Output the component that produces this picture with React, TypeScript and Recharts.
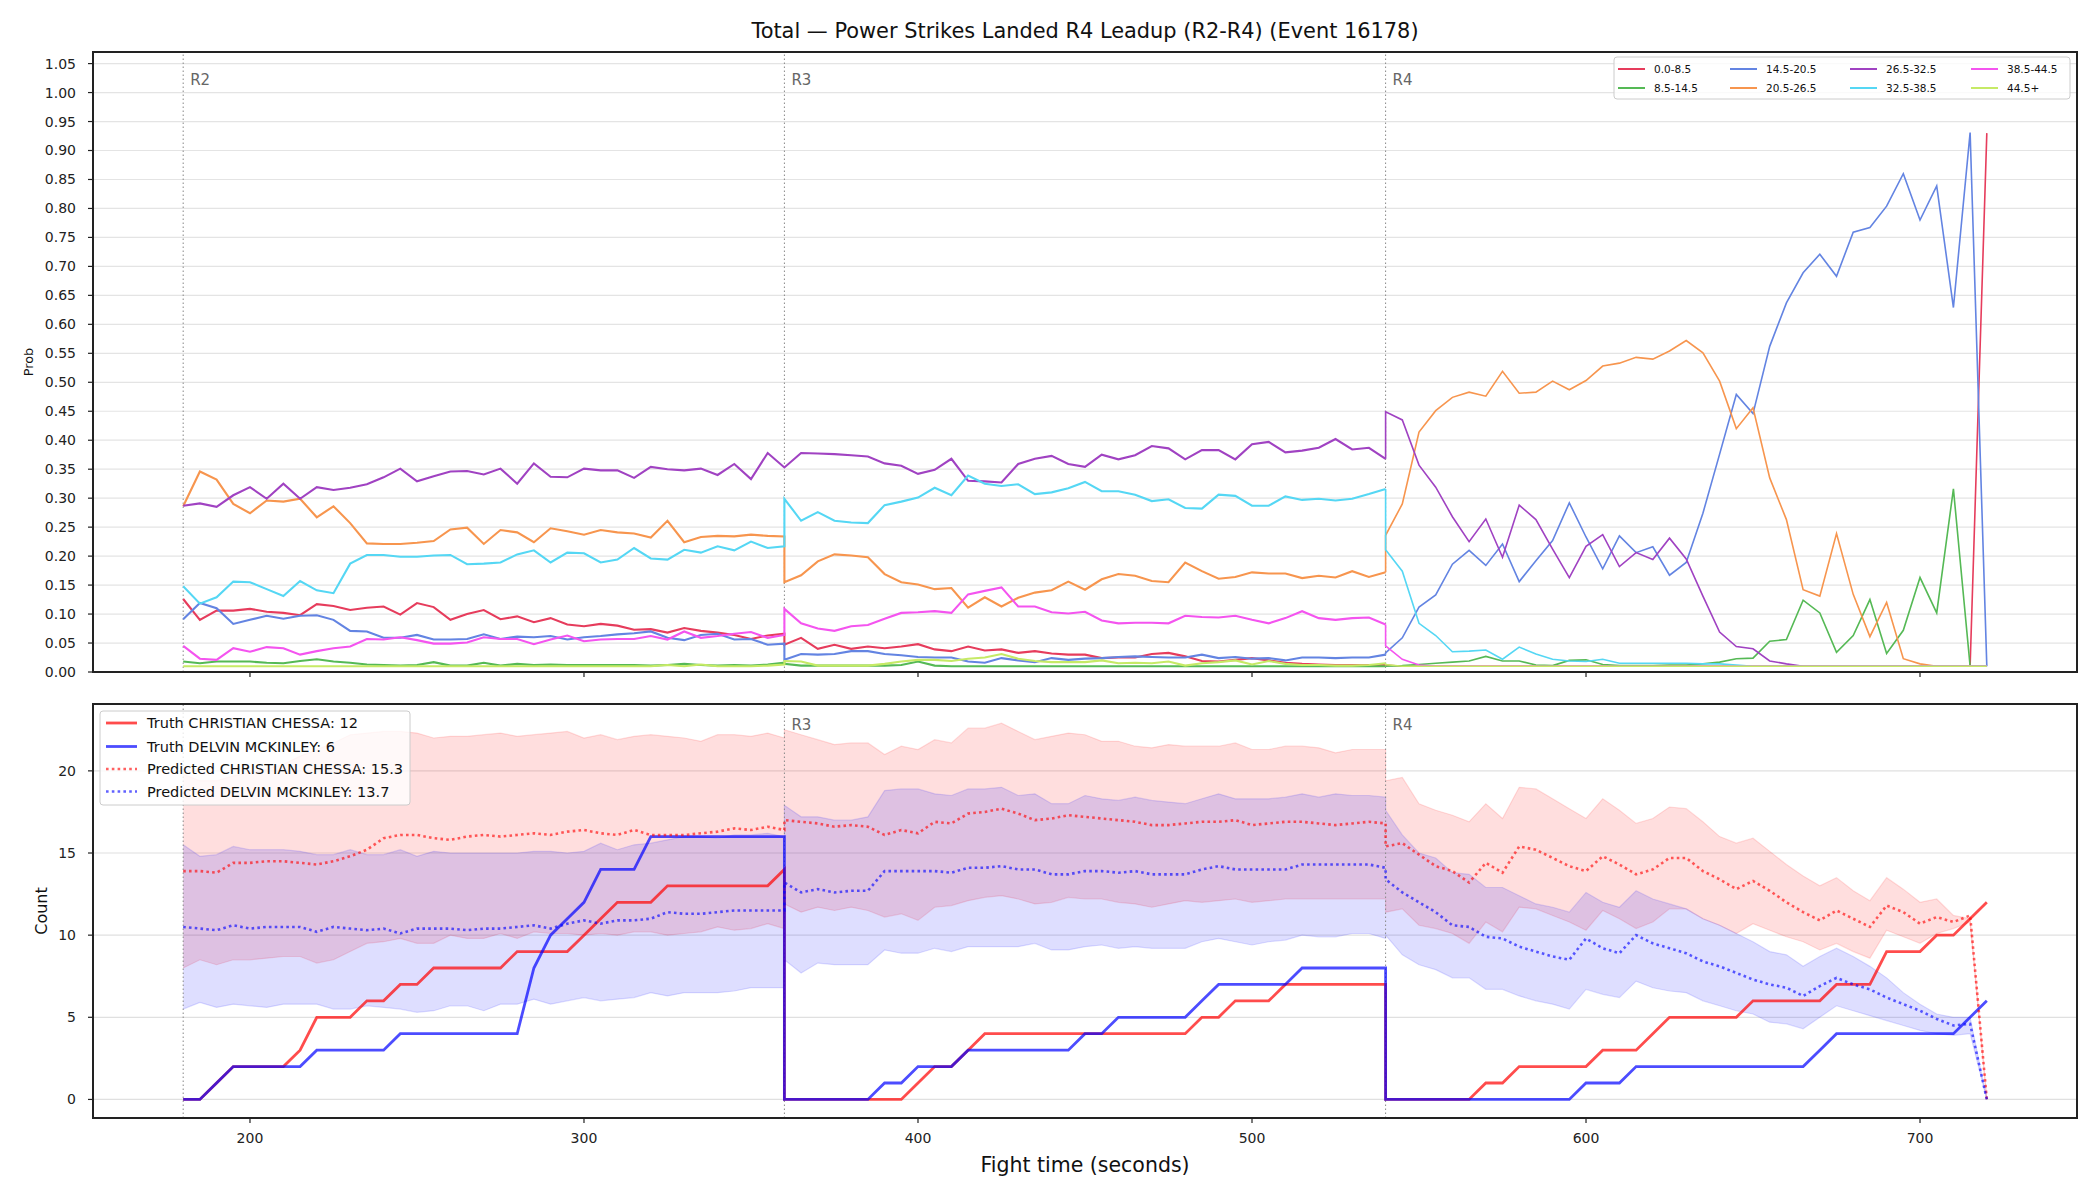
import React from 'react';
import { ComposedChart, Line, Area, XAxis, YAxis, CartesianGrid, ReferenceLine } from 'recharts';

// ---- time axis (seconds), one block per round; round boundaries repeat ----
const R2_TIME = [180,185,190,195,200,205,210,215,220,225,230,235,240,245,250,255,260,265,270,275,280,285,290,295,300,305,310,315,320,325,330,335,340,345,350,355,360];
const R3_TIME = [360,365,370,375,380,385,390,395,400,405,410,415,420,425,430,435,440,445,450,455,460,465,470,475,480,485,490,495,500,505,510,515,520,525,530,535,540];
const R4_TIME = [540,545,550,555,560,565,570,575,580,585,590,595,600,605,610,615,620,625,630,635,640,645,650,655,660,665,670,675,680,685,690,695,700,705,710,715,720];
const TIME = [...R2_TIME, ...R3_TIME, ...R4_TIME];

const ROUNDS = [{ t: 180, name: 'R2' }, { t: 360, name: 'R3' }, { t: 540, name: 'R4' }];

// ---- probability per strike-count bin (R2 | R3 | R4) ----
const P_0_8 = [
  0.126,0.090,0.106,0.106,0.109,0.104,0.102,0.098,0.117,0.114,0.107,0.111,0.113,0.099,0.119,0.112,0.090,0.100,0.107,0.091,0.096,0.086,0.093,0.082,0.079,0.083,0.080,0.073,0.074,0.068,0.076,0.071,0.068,0.064,0.057,0.063,0.066,
  0.047,0.059,0.040,0.047,0.040,0.044,0.041,0.044,0.048,0.039,0.036,0.044,0.037,0.039,0.033,0.036,0.032,0.030,0.030,0.024,0.025,0.025,0.031,0.033,0.027,0.019,0.018,0.021,0.024,0.020,0.016,0.014,0.013,0.012,0.012,0.012,0.012,
  0.012,0.010,0.010,0.010,0.010,0.010,0.010,0.010,0.010,0.010,0.010,0.010,0.010,0.010,0.010,0.010,0.010,0.010,0.010,0.010,0.010,0.010,0.010,0.010,0.010,0.010,0.010,0.010,0.010,0.010,0.010,0.010,0.010,0.010,0.010,0.010,0.930,
];
const P_8_14 = [
  0.018,0.015,0.018,0.018,0.018,0.016,0.015,0.019,0.022,0.018,0.016,0.013,0.012,0.011,0.012,0.017,0.011,0.011,0.016,0.011,0.014,0.012,0.013,0.012,0.012,0.012,0.012,0.012,0.011,0.012,0.014,0.012,0.011,0.012,0.011,0.013,0.016,
  0.014,0.011,0.011,0.011,0.011,0.011,0.011,0.012,0.018,0.011,0.010,0.010,0.010,0.010,0.010,0.010,0.010,0.010,0.010,0.010,0.010,0.010,0.010,0.010,0.010,0.010,0.010,0.010,0.010,0.010,0.010,0.010,0.010,0.010,0.010,0.010,0.010,
  0.010,0.011,0.013,0.015,0.017,0.019,0.027,0.019,0.019,0.012,0.011,0.020,0.021,0.013,0.011,0.011,0.011,0.012,0.012,0.014,0.017,0.023,0.024,0.053,0.056,0.124,0.102,0.034,0.063,0.125,0.032,0.072,0.163,0.102,0.316,0.010,0.010,
];
const P_14_20 = [
  0.091,0.119,0.110,0.083,0.090,0.097,0.092,0.097,0.098,0.090,0.071,0.070,0.059,0.059,0.064,0.056,0.056,0.057,0.065,0.057,0.061,0.060,0.062,0.056,0.060,0.062,0.065,0.067,0.070,0.059,0.055,0.064,0.066,0.056,0.057,0.047,0.049,
  0.021,0.031,0.030,0.031,0.036,0.036,0.031,0.029,0.026,0.025,0.025,0.018,0.016,0.024,0.020,0.017,0.024,0.021,0.023,0.024,0.026,0.027,0.026,0.025,0.025,0.030,0.024,0.026,0.023,0.024,0.020,0.025,0.025,0.024,0.025,0.025,0.030,
  0.033,0.059,0.112,0.133,0.186,0.210,0.184,0.221,0.156,0.192,0.227,0.292,0.233,0.178,0.235,0.206,0.216,0.167,0.189,0.274,0.376,0.479,0.446,0.562,0.637,0.689,0.721,0.683,0.759,0.767,0.804,0.860,0.780,0.839,0.629,0.931,0.010,
];
const P_20_26 = [
  0.286,0.346,0.332,0.290,0.274,0.296,0.294,0.299,0.267,0.286,0.257,0.222,0.221,0.221,0.223,0.226,0.246,0.249,0.221,0.245,0.241,0.224,0.248,0.243,0.237,0.245,0.241,0.239,0.232,0.261,0.224,0.233,0.235,0.234,0.237,0.235,0.234,
  0.155,0.167,0.191,0.203,0.201,0.198,0.169,0.155,0.151,0.143,0.145,0.111,0.129,0.113,0.128,0.137,0.141,0.156,0.142,0.160,0.169,0.166,0.157,0.155,0.189,0.174,0.161,0.164,0.172,0.170,0.170,0.162,0.166,0.163,0.174,0.164,0.172,
  0.236,0.290,0.414,0.451,0.474,0.483,0.476,0.519,0.481,0.483,0.502,0.487,0.503,0.528,0.533,0.543,0.540,0.554,0.572,0.551,0.502,0.420,0.456,0.335,0.263,0.142,0.131,0.239,0.134,0.061,0.120,0.023,0.014,0.010,0.010,0.010,0.010,
];
const P_26_32 = [
  0.287,0.291,0.285,0.305,0.319,0.299,0.325,0.299,0.319,0.314,0.318,0.324,0.336,0.351,0.329,0.338,0.346,0.347,0.341,0.351,0.325,0.360,0.337,0.336,0.351,0.348,0.348,0.335,0.354,0.350,0.348,0.351,0.340,0.359,0.333,0.378,0.353,
  0.353,0.378,0.377,0.376,0.374,0.372,0.360,0.356,0.342,0.349,0.368,0.330,0.329,0.327,0.359,0.368,0.373,0.359,0.354,0.375,0.367,0.374,0.390,0.386,0.367,0.383,0.383,0.367,0.393,0.397,0.379,0.382,0.387,0.402,0.384,0.387,0.368,
  0.449,0.435,0.357,0.319,0.268,0.225,0.264,0.198,0.288,0.263,0.212,0.163,0.217,0.237,0.182,0.206,0.194,0.231,0.195,0.131,0.069,0.044,0.040,0.019,0.014,0.010,0.010,0.010,0.010,0.010,0.010,0.010,0.010,0.010,0.010,0.010,0.010,
];
const P_32_38 = [
  0.148,0.118,0.129,0.156,0.155,0.143,0.131,0.157,0.141,0.136,0.187,0.202,0.202,0.199,0.199,0.201,0.202,0.186,0.187,0.189,0.203,0.210,0.189,0.206,0.205,0.189,0.194,0.214,0.196,0.194,0.211,0.206,0.217,0.210,0.225,0.214,0.217,
  0.299,0.261,0.276,0.261,0.258,0.257,0.288,0.294,0.301,0.318,0.305,0.339,0.325,0.321,0.324,0.307,0.310,0.317,0.328,0.312,0.312,0.306,0.295,0.298,0.283,0.282,0.306,0.304,0.287,0.287,0.303,0.297,0.299,0.296,0.299,0.307,0.316,
  0.211,0.174,0.084,0.063,0.035,0.036,0.038,0.022,0.043,0.031,0.022,0.019,0.018,0.022,0.015,0.015,0.015,0.015,0.015,0.014,0.014,0.012,0.010,0.010,0.010,0.010,0.010,0.010,0.010,0.010,0.010,0.010,0.010,0.010,0.010,0.010,0.010,
];
const P_38_44 = [
  0.045,0.023,0.021,0.041,0.035,0.043,0.041,0.030,0.036,0.041,0.044,0.057,0.056,0.060,0.055,0.049,0.049,0.051,0.060,0.057,0.057,0.048,0.056,0.063,0.053,0.056,0.057,0.057,0.062,0.056,0.070,0.059,0.062,0.066,0.069,0.059,0.064,
  0.109,0.084,0.075,0.071,0.079,0.081,0.092,0.102,0.103,0.105,0.102,0.134,0.140,0.146,0.113,0.113,0.103,0.101,0.104,0.089,0.084,0.085,0.085,0.084,0.097,0.095,0.094,0.097,0.090,0.084,0.093,0.105,0.093,0.090,0.093,0.094,0.082,
  0.045,0.022,0.012,0.010,0.010,0.010,0.010,0.010,0.010,0.010,0.010,0.010,0.010,0.010,0.010,0.010,0.010,0.010,0.010,0.010,0.010,0.010,0.010,0.010,0.010,0.010,0.010,0.010,0.010,0.010,0.010,0.010,0.010,0.010,0.010,0.010,0.010,
];
const P_44_UP = [
  0.010,0.010,0.010,0.010,0.010,0.010,0.010,0.010,0.010,0.010,0.010,0.010,0.010,0.010,0.010,0.010,0.010,0.010,0.010,0.010,0.010,0.010,0.010,0.010,0.010,0.010,0.010,0.010,0.010,0.012,0.010,0.013,0.010,0.010,0.010,0.011,0.013,
  0.019,0.018,0.011,0.011,0.011,0.011,0.014,0.018,0.021,0.021,0.019,0.023,0.025,0.031,0.023,0.019,0.017,0.017,0.017,0.020,0.015,0.016,0.015,0.018,0.011,0.015,0.017,0.020,0.013,0.019,0.014,0.012,0.012,0.011,0.011,0.012,0.015,
  0.013,0.010,0.010,0.010,0.010,0.010,0.010,0.010,0.010,0.010,0.010,0.010,0.010,0.010,0.010,0.010,0.010,0.010,0.010,0.010,0.010,0.010,0.010,0.010,0.010,0.010,0.010,0.010,0.010,0.010,0.010,0.010,0.010,0.010,0.010,0.010,0.010,
];

const BIN_LABELS = ['0.0-8.5', '8.5-14.5', '14.5-20.5', '20.5-26.5', '26.5-32.5', '32.5-38.5', '38.5-44.5', '44.5+'];
const BIN_COLORS = ['#e63c5c', '#55b955', '#6384e2', '#f7954e', '#a042c2', '#55d7f4', '#f454ef', '#c6ea66'];
const BIN_VALUES = [P_0_8, P_8_14, P_14_20, P_20_26, P_26_32, P_32_38, P_38_44, P_44_UP];

// ---- cumulative counts (R2 | R3 | R4) ----
const TRUTH_CC = [
  0,0,1,2,2,2,2,3,5,5,5,6,6,7,7,8,8,8,8,8,9,9,9,9,10,11,12,12,12,13,13,13,13,13,13,13,14,
  0,0,0,0,0,0,0,0,1,2,2,3,4,4,4,4,4,4,4,4,4,4,4,4,4,5,5,6,6,6,7,7,7,7,7,7,7,
  0,0,0,0,0,0,1,1,2,2,2,2,2,3,3,3,4,5,5,5,5,5,6,6,6,6,6,7,7,7,9,9,9,10,10,11,12,
];
const TRUTH_DM = [
  0,0,1,2,2,2,2,2,3,3,3,3,3,4,4,4,4,4,4,4,4,8,10,11,12,14,14,14,16,16,16,16,16,16,16,16,16,
  0,0,0,0,0,0,1,1,2,2,2,3,3,3,3,3,3,3,4,4,5,5,5,5,5,6,7,7,7,7,7,8,8,8,8,8,8,
  0,0,0,0,0,0,0,0,0,0,0,0,1,1,1,2,2,2,2,2,2,2,2,2,2,2,3,4,4,4,4,4,4,4,4,5,6,
];
const PRED_CC = [
  13.9,13.9,13.8,14.4,14.4,14.5,14.5,14.4,14.3,14.5,14.8,15.2,15.9,16.1,16.1,15.9,15.8,16.0,16.1,16.0,16.1,16.2,16.1,16.3,16.4,16.2,16.1,16.4,16.1,16.1,16.1,16.2,16.3,16.5,16.4,16.6,16.4,
  17.0,16.9,16.8,16.6,16.7,16.6,16.1,16.4,16.2,16.9,16.8,17.4,17.5,17.7,17.4,17.0,17.1,17.3,17.2,17.1,17.0,16.9,16.7,16.7,16.8,16.9,16.9,17.0,16.7,16.8,16.9,16.9,16.8,16.7,16.8,16.9,16.8,
  15.4,15.6,14.9,14.2,13.9,13.2,14.4,13.8,15.4,15.2,14.7,14.2,13.9,14.8,14.3,13.7,14.0,14.7,14.7,13.9,13.4,12.8,13.3,12.7,12.0,11.4,10.9,11.5,11.0,10.5,11.8,11.4,10.7,11.1,10.8,11.2,0,
];
const PRED_DM = [
  10.5,10.4,10.3,10.6,10.4,10.5,10.5,10.5,10.2,10.5,10.4,10.3,10.4,10.1,10.4,10.4,10.4,10.3,10.4,10.4,10.5,10.6,10.4,10.7,10.9,10.7,10.9,10.9,11.0,11.4,11.3,11.3,11.4,11.5,11.5,11.5,11.5,
  13.2,12.6,12.8,12.6,12.7,12.7,13.9,13.9,13.9,13.9,13.8,14.1,14.1,14.2,14.0,14.0,13.7,13.7,13.9,13.9,13.8,13.9,13.7,13.7,13.7,14.0,14.2,14.0,14.0,14.0,14.0,14.3,14.3,14.3,14.3,14.3,14.1,
  13.4,12.6,12.0,11.4,10.6,10.5,9.9,9.8,9.3,9.0,8.7,8.5,9.8,9.2,8.9,10.0,9.5,9.2,8.9,8.4,8.1,7.7,7.3,7.0,6.8,6.3,6.9,7.4,7.0,6.7,6.2,5.8,5.4,4.9,4.5,4.6,0,
];
const CC_HIGH = [
  19.8,19.4,19.4,19.7,19.9,20.1,20.4,20.9,21.3,21.7,22.2,22.3,22.4,22.4,22.3,22.0,22.1,22.1,22.2,22.3,22.1,22.2,22.3,22.4,22.0,22.2,21.9,22.1,22.2,22.1,22.0,21.8,22.2,22.2,22.1,22.3,22.0,
  22.5,22.2,21.9,21.6,21.7,21.7,21.0,21.5,21.3,21.9,21.7,22.6,22.6,22.9,22.4,21.9,22.1,22.3,22.2,21.8,21.8,21.5,21.4,21.6,21.5,21.5,21.5,21.7,21.3,21.3,21.5,21.5,21.4,21.1,21.3,21.3,21.3,
  19.4,19.6,18.0,17.6,17.3,16.9,18.0,17.1,19.0,18.9,18.3,17.7,17.1,18.3,17.6,16.8,17.1,17.8,17.7,16.9,16.0,15.6,15.9,15.1,14.3,13.6,13.0,13.5,12.7,12.1,13.5,12.8,12.0,12.2,11.2,11.0,0,
];
const CC_LOW = [
  8.0,8.5,8.2,8.5,8.5,8.6,8.7,8.7,8.3,8.5,9.0,9.5,9.6,9.8,9.5,9.5,10.0,9.8,9.8,10.1,9.8,10.2,10.1,10.1,10.0,10.1,10.0,10.2,10.2,10.0,10.1,10.2,10.5,10.3,10.4,10.7,10.4,
  11.9,11.4,11.7,11.5,11.7,11.5,11.1,11.3,10.9,11.7,11.8,12.1,12.3,12.4,12.2,11.9,12.0,12.3,12.2,12.2,12.0,11.9,11.7,11.9,12.1,12.0,12.1,12.2,12.0,12.1,12.2,12.2,12.2,12.2,12.2,12.2,12.2,
  11.4,11.6,10.6,10.4,10.1,9.5,10.8,10.2,11.7,11.6,11.2,10.8,10.3,11.5,11.0,10.4,10.8,11.6,11.6,11.0,10.6,10.1,10.7,10.3,9.9,9.6,9.1,9.5,9.0,8.6,10.3,9.9,9.5,10.1,10.4,10.8,0,
];
const DM_HIGH = [
  15.5,14.8,14.9,15.4,15.2,15.2,15.2,15.1,14.9,14.9,15.2,14.9,14.9,15.2,14.8,15.1,15.0,15.0,15.0,15.0,15.0,15.1,15.1,15.0,15.1,15.6,15.2,15.5,15.6,15.8,16.0,16.0,15.9,16.1,16.1,16.2,16.0,
  17.9,17.2,17.2,17.0,17.0,17.2,18.8,18.9,18.9,18.6,18.5,18.9,18.9,19.0,18.5,18.6,18.0,18.0,18.5,18.3,18.2,18.4,18.2,18.1,18.0,18.3,18.6,18.3,18.3,18.3,18.4,18.6,18.4,18.6,18.5,18.5,18.4,
  17.6,16.1,15.0,14.7,13.8,13.7,12.9,12.9,12.4,11.9,11.7,11.4,12.6,12.0,11.7,12.7,12.2,11.9,11.6,11.0,10.6,10.1,9.6,9.0,8.8,8.1,8.7,9.2,8.7,8.1,7.4,6.5,5.8,5.2,5.0,5.0,0,
];
const DM_LOW = [
  5.5,5.9,5.6,5.8,5.7,5.6,5.8,5.8,5.8,5.5,5.5,5.7,5.6,5.5,5.3,5.4,5.7,5.7,5.4,5.8,5.8,6.1,5.8,6.0,6.2,6.0,6.1,6.2,6.5,6.3,6.5,6.5,6.5,6.6,6.8,6.8,6.8,
  8.5,7.7,8.3,8.2,8.2,8.2,9.1,8.9,8.9,9.2,9.0,9.3,9.3,9.3,9.3,9.5,9.1,9.1,9.3,9.4,9.2,9.3,9.2,9.2,9.2,9.6,9.8,9.6,9.4,9.6,9.7,10.0,9.9,9.9,10.1,10.1,9.8,
  10.0,8.8,8.2,7.9,7.4,7.4,6.7,6.7,6.3,6.0,5.8,5.5,6.7,6.4,6.2,7.2,6.8,6.6,6.5,6.0,5.7,5.4,5.2,4.7,4.6,4.3,5.0,5.7,5.4,5.1,4.8,4.5,4.2,4.0,3.9,4.0,0,
];

const COUNT_LEGEND = [
  { label: 'Truth CHRISTIAN CHESSA: 12', color: '#ff0000', dotted: false },
  { label: 'Truth DELVIN MCKINLEY: 6', color: '#0000ff', dotted: false },
  { label: 'Predicted CHRISTIAN CHESSA: 15.3', color: '#ff0000', dotted: true },
  { label: 'Predicted DELVIN MCKINLEY: 13.7', color: '#0000ff', dotted: true },
];

const X_TICKS = [200, 300, 400, 500, 600, 700];
const PROB_TICKS = [0, 0.05, 0.1, 0.15, 0.2, 0.25, 0.3, 0.35, 0.4, 0.45, 0.5, 0.55, 0.6, 0.65, 0.7, 0.75, 0.8, 0.85, 0.9, 0.95, 1.0, 1.05];
const COUNT_TICKS = [0, 5, 10, 15, 20];

// ---- layout ----
const W = 2100;
const PLOT_L = 93;
const PLOT_R = 2077;
const TOP_PLOT = { top: 52, bottom: 672 };
const BOT_OFFSET = 680;
const BOT_PLOT = { top: 704, bottom: 1118 };
const X_DOMAIN: [number, number] = [153, 747];
const FONT = '"DejaVu Sans", Verdana, sans-serif';

// dotted style of the predicted-count lines
const DOT_W = 2.6;
const DOT_DASH = '2.6 3.2';

// The earlier rounds end at this row; the current round (R4) continues from it.
const PAST_END = R2_TIME.length + R3_TIME.length - 1;

const probRows = TIME.map((t, i) => {
  const row: Record<string, number> = { t };
  BIN_VALUES.forEach((vals, k) => {
    if (i <= PAST_END) row[`past${k}`] = vals[i];
    if (i >= PAST_END) row[`cur${k}`] = vals[i];
  });
  return row;
});

const countRows = TIME.map((t, i) => ({
  t,
  truthCC: TRUTH_CC[i],
  truthDM: TRUTH_DM[i],
  predCC: PRED_CC[i],
  predDM: PRED_DM[i],
  bandCC: [CC_LOW[i], CC_HIGH[i]],
  bandDM: [DM_LOW[i], DM_HIGH[i]],
}));

const roundLabel = (text: string, dy: number) => (props: any) => {
  const vb = props && props.viewBox ? props.viewBox : { x: 0, y: 0, height: 0 };
  const top = Math.min(vb.y, vb.y + (vb.height || 0));
  return (
    <text x={vb.x + 7} y={top + dy} fill="#666" fontSize={15} fontFamily={FONT}>
      {text}
    </text>
  );
};

const tickStyle = { fontSize: 14, fill: '#222', fontFamily: FONT };

function ProbChart() {
  return (
    <ComposedChart
      width={W}
      height={700}
      data={probRows}
      margin={{ top: TOP_PLOT.top, right: W - PLOT_R, bottom: 8, left: 0 }}
    >
      <CartesianGrid vertical={false} stroke="#e4e4e4" strokeWidth={1.2} />
      <XAxis
        dataKey="t"
        type="number"
        domain={X_DOMAIN}
        allowDataOverflow
        ticks={X_TICKS}
        tickFormatter={() => ''}
        axisLine={false}
        tickLine={{ stroke: '#222', strokeWidth: 1.2 }}
        tickSize={5}
        height={20}
      />
      <YAxis
        type="number"
        domain={[0, 1.07]}
        allowDataOverflow
        ticks={PROB_TICKS}
        tickFormatter={(v: number) => v.toFixed(2)}
        axisLine={false}
        tickLine={{ stroke: '#222', strokeWidth: 1.2 }}
        tickSize={5}
        tickMargin={12}
        tick={tickStyle}
        width={PLOT_L}
      />
      {ROUNDS.map((r) => (
        <ReferenceLine
          key={r.name}
          x={r.t}
          stroke="#888"
          strokeWidth={1}
          strokeDasharray="1.5 2.5"
          label={roundLabel(r.name, 33)}
        />
      ))}
      {BIN_COLORS.map((c, k) => (
        <Line
          key={`past${k}`}
          dataKey={`past${k}`}
          type="linear"
          stroke={c}
          strokeWidth={2.1}
          dot={false}
          activeDot={false}
          connectNulls={false}
          isAnimationActive={false}
        />
      ))}
      {BIN_COLORS.map((c, k) => (
        <Line
          key={`cur${k}`}
          dataKey={`cur${k}`}
          type="linear"
          stroke={c}
          strokeWidth={1.6}
          dot={false}
          activeDot={false}
          connectNulls={false}
          isAnimationActive={false}
        />
      ))}
    </ComposedChart>
  );
}

function CountChart() {
  return (
    <ComposedChart
      width={W}
      height={520}
      data={countRows}
      margin={{ top: BOT_PLOT.top - BOT_OFFSET, right: W - PLOT_R, bottom: 32, left: 0 }}
    >
      <CartesianGrid vertical={false} stroke="#e0e0e0" strokeWidth={1.2} />
      <XAxis
        dataKey="t"
        type="number"
        domain={X_DOMAIN}
        allowDataOverflow
        ticks={X_TICKS}
        axisLine={false}
        tickLine={{ stroke: '#222', strokeWidth: 1.2 }}
        tickSize={5}
        tickMargin={10}
        tick={tickStyle}
        height={50}
      />
      <YAxis
        type="number"
        domain={[-1.13, 24.07]}
        allowDataOverflow
        ticks={COUNT_TICKS}
        axisLine={false}
        tickLine={{ stroke: '#222', strokeWidth: 1.2 }}
        tickSize={5}
        tickMargin={12}
        tick={tickStyle}
        width={PLOT_L}
      />
      <Area
        dataKey="bandCC"
        type="linear"
        fill="#ff0000"
        fillOpacity={0.13}
        stroke="#ff0000"
        strokeOpacity={0.13}
        strokeWidth={1.2}
        dot={false}
        activeDot={false}
        isAnimationActive={false}
      />
      <Area
        dataKey="bandDM"
        type="linear"
        fill="#0000ff"
        fillOpacity={0.13}
        stroke="#0000ff"
        strokeOpacity={0.13}
        strokeWidth={1.2}
        dot={false}
        activeDot={false}
        isAnimationActive={false}
      />
      {ROUNDS.map((r) => (
        <ReferenceLine
          key={r.name}
          x={r.t}
          stroke="#888"
          strokeWidth={1}
          strokeDasharray="1.5 2.5"
          label={r.name === 'R2' ? undefined : roundLabel(r.name, 26)}
        />
      ))}
      <Line dataKey="truthCC" type="linear" stroke="#ff0000" strokeOpacity={0.7} strokeWidth={2.8} dot={false} activeDot={false} isAnimationActive={false} />
      <Line dataKey="truthDM" type="linear" stroke="#0000ff" strokeOpacity={0.7} strokeWidth={2.8} dot={false} activeDot={false} isAnimationActive={false} />
      <Line dataKey="predCC" type="linear" stroke="#ff0000" strokeOpacity={0.62} strokeWidth={DOT_W} strokeDasharray={DOT_DASH} dot={false} activeDot={false} isAnimationActive={false} />
      <Line dataKey="predDM" type="linear" stroke="#0000ff" strokeOpacity={0.62} strokeWidth={DOT_W} strokeDasharray={DOT_DASH} dot={false} activeDot={false} isAnimationActive={false} />
    </ComposedChart>
  );
}

function Overlay() {
  const legendCols = [1618, 1730, 1850, 1971];
  const legendRows = [69, 88];
  return (
    <svg
      width={W}
      height={1200}
      style={{ position: 'absolute', left: 0, top: 0, pointerEvents: 'none' }}
      fontFamily={FONT}
    >
      {/* title and axis labels */}
      <text x={(PLOT_L + PLOT_R) / 2} y={38} textAnchor="middle" fontSize={20.9} fill="#111">
        Total — Power Strikes Landed R4 Leadup (R2-R4) (Event 16178)
      </text>
      <text x={(PLOT_L + PLOT_R) / 2} y={1172} textAnchor="middle" fontSize={20.5} fill="#111">
        Fight time (seconds)
      </text>
      <text
        transform={`translate(28, ${(TOP_PLOT.top + TOP_PLOT.bottom) / 2}) rotate(-90)`}
        textAnchor="middle"
        dominantBaseline="central"
        fontSize={12.8}
        fill="#111"
      >
        Prob
      </text>
      <text
        transform={`translate(41, ${(BOT_PLOT.top + BOT_PLOT.bottom) / 2}) rotate(-90)`}
        textAnchor="middle"
        dominantBaseline="central"
        fontSize={16}
        fill="#111"
      >
        Count
      </text>

      {/* axes frames */}
      <rect x={PLOT_L} y={TOP_PLOT.top} width={PLOT_R - PLOT_L} height={TOP_PLOT.bottom - TOP_PLOT.top} fill="none" stroke="#222" strokeWidth={2} />
      <rect x={PLOT_L} y={BOT_PLOT.top} width={PLOT_R - PLOT_L} height={BOT_PLOT.bottom - BOT_PLOT.top} fill="none" stroke="#222" strokeWidth={2} />

      {/* probability legend */}
      <rect x={1614} y={57} width={456} height={42} rx={3} fill="#fff" fillOpacity={0.8} stroke="#cccccc" strokeWidth={1} />
      {BIN_LABELS.map((lab, k) => {
        const x = legendCols[Math.floor(k / 2)];
        const y = legendRows[k % 2];
        return (
          <g key={lab}>
            <line x1={x} x2={x + 27} y1={y} y2={y} stroke={BIN_COLORS[k]} strokeWidth={2} />
            <text x={x + 36} y={y} dominantBaseline="central" fontSize={10.5} fill="#111">
              {lab}
            </text>
          </g>
        );
      })}

      {/* count legend */}
      <rect x={100} y={711} width={310} height={94} rx={3} fill="#fff" fillOpacity={0.8} stroke="#cccccc" strokeWidth={1} />
      {COUNT_LEGEND.map((item, k) => {
        const y = [723, 746.5, 769, 791.5][k];
        return (
          <g key={item.label}>
            <line
              x1={106}
              x2={137}
              y1={y}
              y2={y}
              stroke={item.color}
              strokeOpacity={item.dotted ? 0.62 : 0.7}
              strokeWidth={item.dotted ? DOT_W : 2.8}
              strokeDasharray={item.dotted ? DOT_DASH : undefined}
            />
            <text x={147} y={y} dominantBaseline="central" fontSize={14.5} fill="#111">
              {item.label}
            </text>
          </g>
        );
      })}
    </svg>
  );
}

export default function App() {
  return (
    <div
      style={{
        position: 'absolute',
        left: 0,
        top: 0,
        width: W,
        height: 1200,
        background: '#fff',
        fontFamily: FONT,
        overflow: 'hidden',
      }}
    >
      <div style={{ position: 'absolute', left: 0, top: 0 }}>
        <ProbChart />
      </div>
      <div style={{ position: 'absolute', left: 0, top: BOT_OFFSET }}>
        <CountChart />
      </div>
      <Overlay />
    </div>
  );
}
